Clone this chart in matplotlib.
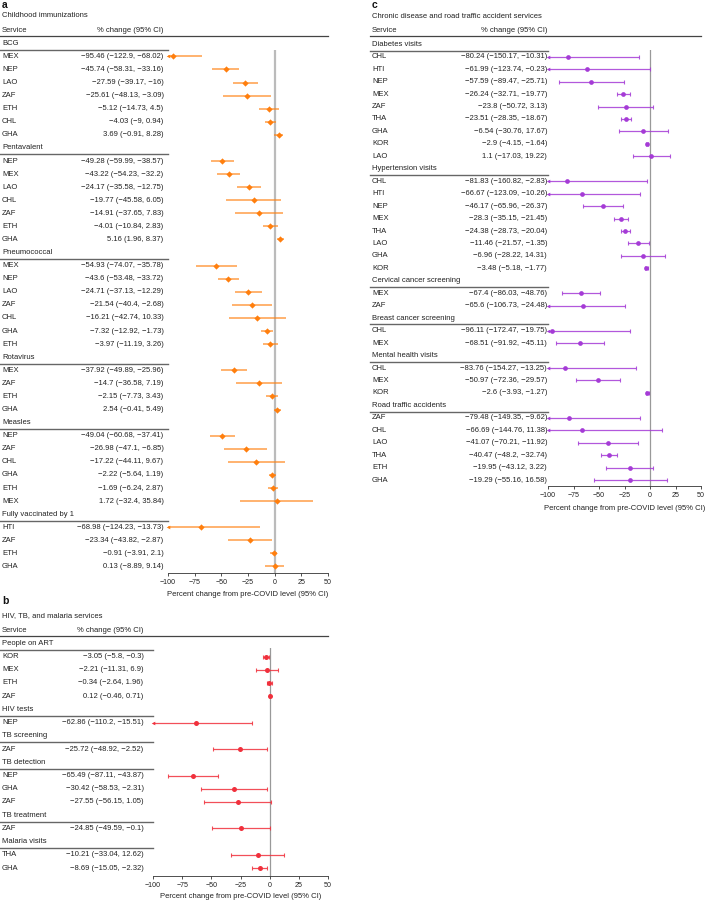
import matplotlib
matplotlib.use('Agg')
import matplotlib.pyplot as plt
from matplotlib.transforms import blended_transform_factory
from matplotlib.lines import Line2D

W, H = 706, 902
plt.rcParams['font.family'] = ['Liberation Sans', 'DejaVu Sans']

# ---------------- Panel a data ----------------
a_groups = ['BCG', 'Pentavalent', 'Pneumococcal', 'Rotavirus', 'Measles', 'Fully vaccinated by 1']
a_countries = [
    ['MEX', 'NEP', 'LAO', 'ZAF', 'ETH', 'CHL', 'GHA'],
    ['NEP', 'MEX', 'LAO', 'CHL', 'ZAF', 'ETH', 'GHA'],
    ['MEX', 'NEP', 'LAO', 'ZAF', 'CHL', 'GHA', 'ETH'],
    ['MEX', 'ZAF', 'ETH', 'GHA'],
    ['NEP', 'ZAF', 'CHL', 'GHA', 'ETH', 'MEX'],
    ['HTI', 'ZAF', 'ETH', 'GHA'],
]
a_est = [
    [-95.46, -45.74, -27.59, -25.61, -5.12, -4.03, 3.69],
    [-49.28, -43.22, -24.17, -19.77, -14.91, -4.01, 5.16],
    [-54.93, -43.6, -24.71, -21.54, -16.21, -7.32, -3.97],
    [-37.92, -14.7, -2.15, 2.54],
    [-49.04, -26.98, -17.22, -2.22, -1.69, 1.72],
    [-68.98, -23.34, -0.91, 0.13],
]
a_lo = [
    [-122.9, -58.31, -39.17, -48.13, -14.73, -9, -0.91],
    [-59.99, -54.23, -35.58, -45.58, -37.65, -10.84, 1.96],
    [-74.07, -53.48, -37.13, -40.4, -42.74, -12.92, -11.19],
    [-49.89, -36.58, -7.73, -0.41],
    [-60.68, -47.1, -44.11, -5.64, -6.24, -32.4],
    [-124.23, -43.82, -3.91, -8.89],
]
a_hi = [
    [-68.02, -33.16, -16, -3.09, 4.5, 0.94, 8.28],
    [-38.57, -32.2, -12.75, 6.05, 7.83, 2.83, 8.37],
    [-35.78, -33.72, -12.29, -2.68, 10.33, -1.73, 3.26],
    [-25.96, 7.19, 3.43, 5.49],
    [-37.41, -6.85, 9.67, 1.19, 2.87, 35.84],
    [-13.73, -2.87, 2.1, 9.14],
]

# ---------------- Panel b data ----------------
b_groups = ['People on ART', 'HIV tests', 'TB screening', 'TB detection', 'TB treatment', 'Malaria visits']
b_countries = [
    ['KOR', 'MEX', 'ETH', 'ZAF'],
    ['NEP'],
    ['ZAF'],
    ['NEP', 'GHA', 'ZAF'],
    ['ZAF'],
    ['THA', 'GHA'],
]
b_est = [
    [-3.05, -2.21, -0.34, 0.12],
    [-62.86],
    [-25.72],
    [-65.49, -30.42, -27.55],
    [-24.85],
    [-10.21, -8.69],
]
b_lo = [
    [-5.8, -11.31, -2.64, -0.46],
    [-110.2],
    [-48.92],
    [-87.11, -58.53, -56.15],
    [-49.59],
    [-33.04, -15.05],
]
b_hi = [
    [-0.3, 6.9, 1.96, 0.71],
    [-15.51],
    [-2.52],
    [-43.87, -2.31, 1.05],
    [-0.1],
    [12.62, -2.32],
]

# ---------------- Panel c data ----------------
c_groups = ['Diabetes visits', 'Hypertension visits', 'Cervical cancer screening',
            'Breast cancer screening', 'Mental health visits', 'Road traffic accidents']
c_countries = [
    ['CHL', 'HTI', 'NEP', 'MEX', 'ZAF', 'THA', 'GHA', 'KOR', 'LAO'],
    ['CHL', 'HTI', 'NEP', 'MEX', 'THA', 'LAO', 'GHA', 'KOR'],
    ['MEX', 'ZAF'],
    ['CHL', 'MEX'],
    ['CHL', 'MEX', 'KOR'],
    ['ZAF', 'CHL', 'LAO', 'THA', 'ETH', 'GHA'],
]
c_est = [
    [-80.24, -61.99, -57.59, -26.24, -23.8, -23.51, -6.54, -2.9, 1.1],
    [-81.83, -66.67, -46.17, -28.3, -24.38, -11.46, -6.96, -3.48],
    [-67.4, -65.6],
    [-96.11, -68.51],
    [-83.76, -50.97, -2.6],
    [-79.48, -66.69, -41.07, -40.47, -19.95, -19.29],
]
c_lo = [
    [-150.17, -123.74, -89.47, -32.71, -50.72, -28.35, -30.76, -4.15, -17.03],
    [-160.82, -123.09, -65.96, -35.15, -28.73, -21.57, -28.22, -5.18],
    [-86.03, -106.73],
    [-172.47, -91.92],
    [-154.27, -72.36, -3.93],
    [-149.35, -144.76, -70.21, -48.2, -43.12, -55.16],
]
c_hi = [
    [-10.31, -0.23, -25.71, -19.77, 3.13, -18.67, 17.67, -1.64, 19.22],
    [-2.83, -10.26, -26.37, -21.45, -20.04, -1.35, 14.31, -1.77],
    [-48.76, -24.48],
    [-19.75, -45.11],
    [-13.25, -29.57, -1.27],
    [-9.62, 11.38, -11.92, -32.74, 3.22, 16.58],
]

xticks = [-100, -75, -50, -25, 0, 25, 50]
xlabel = 'Percent change from pre-COVID level (95% CI)'

fig = plt.figure(figsize=(W / 100, H / 100), dpi=100)

FS = 5.5
TXT = '#222222'


def fx(x):
    return x / W


def fy(y):
    return 1 - y / H


def fmt(v):
    return f'{v:g}'.replace('-', '\u2212')


def panel(letter, title, groups, countries, est, lo, hi, cfg):
    xl, xr = cfg['ax_left'], cfg['ax_right']
    y0, rh = cfg['row0'], cfg['row_h']
    ytop, yax = cfg['zero_top'], cfg['axis_y']
    ax = fig.add_axes([fx(xl), fy(yax), fx(xr) - fx(xl), (yax - ytop) / H])
    ax.set_xlim(-100, 50)
    ax.set_ylim((yax - y0) / rh, (ytop - y0) / rh)
    ax.patch.set_alpha(0)
    for s in ('top', 'left', 'right'):
        ax.spines[s].set_visible(False)
    ax.spines['bottom'].set_color('#333333')
    ax.spines['bottom'].set_linewidth(0.6)
    ax.set_yticks([])
    ax.set_xticks(xticks)
    ax.set_xticklabels([fmt(t) for t in xticks])
    ax.tick_params(axis='x', labelsize=5.1, length=2.5, width=0.6, pad=2,
                   color='#333333', labelcolor=TXT)
    ax.axvline(0, color=cfg['zero_color'], lw=cfg['zero_lw'], zorder=0)
    trans = blended_transform_factory(fig.transFigure, ax.transData)

    tl = cfg['text_left']
    nr = cfg['num_right']
    # header texts
    fig.text(fx(tl), fy(cfg['letter_y']), letter, fontsize=7.5, fontweight='bold',
             ha='left', va='top', color='#111111')
    fig.text(fx(tl), fy(cfg['title_y']), title, fontsize=FS, ha='left', va='center', color=TXT)
    fig.text(fx(tl), fy(cfg['col_y']), 'Service', fontsize=FS, ha='left', va='center', color=TXT)
    fig.text(fx(nr), fy(cfg['col_y']), '% change (95% CI)', fontsize=FS, ha='right',
             va='center', color=TXT)
    fig.add_artist(Line2D([fx(cfg['line_left']), fx(xr)], [fy(cfg['top_line'])] * 2,
                          color='#444444', lw=0.9))

    r = 0
    col = cfg['color']
    for g, name in enumerate(groups):
        ax.text(fx(tl), r, name, transform=trans, fontsize=FS, ha='left', va='center', color=TXT)
        ax.plot([fx(cfg['line_left']), fx(xl)], [r + 0.5, r + 0.5], transform=trans,
                color='#666666', lw=1.0, clip_on=False)
        r += 1
        for c, e, l, h in zip(countries[g], est[g], lo[g], hi[g]):
            ax.text(fx(tl), r, c, transform=trans, fontsize=FS, ha='left', va='center', color=TXT)
            ax.text(fx(nr), r, f'{fmt(e)} ({fmt(l)}, {fmt(h)})', transform=trans,
                    fontsize=FS, ha='right', va='center', color=TXT)
            lcl = max(l, -100)
            ax.plot([lcl, h], [r, r], color=col, lw=cfg['ci_lw'], alpha=cfg['ci_alpha'],
                    solid_capstyle='butt', clip_on=False, zorder=2)
            if cfg['caps']:
                ends = [h] if l < -100 else [l, h]
                ax.plot(ends, [r] * len(ends), ls='none', marker='|', ms=3.4, mew=0.8,
                        color=col, alpha=cfg['ci_alpha'], clip_on=False, zorder=2)
            if l < -100:
                ax.plot([-100], [r], ls='none', marker='<', ms=2.6, color=col,
                        mew=0, clip_on=False, zorder=3)
            ax.plot([e], [r], ls='none', marker=cfg['marker'], ms=cfg['ms'], color=col,
                    mew=0, clip_on=False, zorder=4)
            r += 1
    fig.text(fx((xl + xr) / 2), fy(cfg['xlabel_y']), xlabel, fontsize=FS, ha='center',
             va='center', color=TXT)
    return ax


panel('a', 'Childhood immunizations', a_groups, a_countries, a_est, a_lo, a_hi, dict(
    ax_left=168, ax_right=328, row0=43.3, row_h=13.08, zero_top=50, axis_y=572.7,
    text_left=2, num_right=163.5, line_left=0, letter_y=0.5, title_y=15.7, col_y=30,
    top_line=35.8, xlabel_y=595, color='#FF7F0E', ci_lw=1.4, ci_alpha=0.6, caps=False,
    marker='D', ms=3.2, zero_color='#BBBBBB', zero_lw=1.6))

panel('b', 'HIV, TB, and malaria services', b_groups, b_countries, b_est, b_lo, b_hi, dict(
    ax_left=153, ax_right=328, row0=643.3, row_h=13.22, zero_top=648, axis_y=876,
    text_left=2, num_right=143.5, line_left=0, letter_y=595.5, title_y=616, col_y=630,
    top_line=636, xlabel_y=896, color='#F0303C', ci_lw=0.9, ci_alpha=0.85, caps=True,
    marker='o', ms=3.6, zero_color='#999999', zero_lw=0.9))

panel('c', 'Chronic disease and road traffic accident services', c_groups, c_countries,
      c_est, c_lo, c_hi, dict(
          ax_left=548, ax_right=701, row0=44.3, row_h=12.45, zero_top=50, axis_y=486,
          text_left=372, num_right=547, line_left=370, letter_y=0.5, title_y=16, col_y=30,
          top_line=36, xlabel_y=508.3, color='#A53BD6', ci_lw=0.9, ci_alpha=0.85, caps=True,
          marker='o', ms=3.4, zero_color='#999999', zero_lw=0.9))

fig.savefig('out.png', dpi=100)
